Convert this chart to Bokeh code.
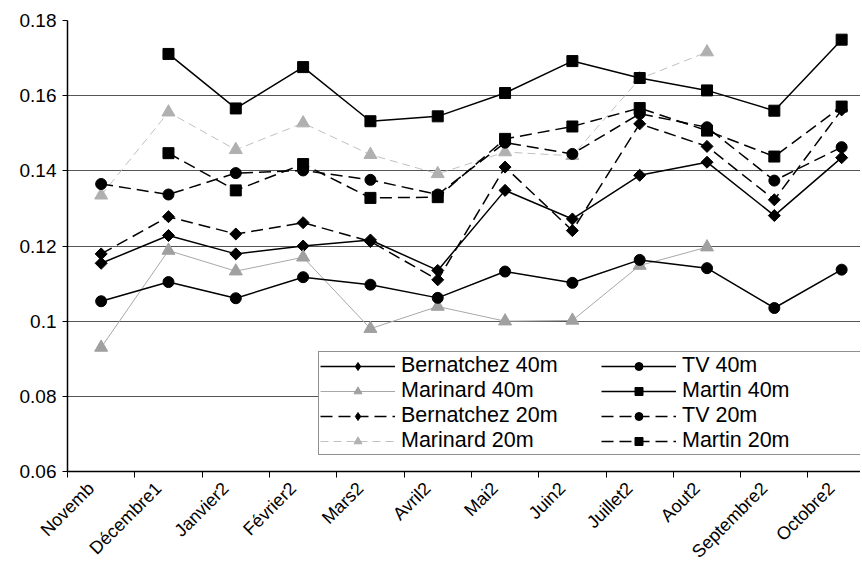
import math
import numpy as np
from bokeh.plotting import figure
from bokeh.models import (Range1d, FixedTicker, Legend, LegendItem, ColumnDataSource)
from bokeh.embed import file_html
from bokeh.resources import INLINE

nan = np.nan

months = ["Novemb", "Décembre1", "Janvier2", "Février2", "Mars2", "Avril2",
          "Mai2", "Juin2", "Juillet2", "Aout2", "Septembre2", "Octobre2"]

bernatchez_40 = [0.1154, 0.1228, 0.1179, 0.1200, 0.1216, 0.1135, 0.1348, 0.1272, 0.1388, 0.1423, 0.1281, 0.1435]
tv_40 = [0.1053, 0.1104, 0.1061, 0.1117, 0.1097, 0.1062, 0.1132, 0.1102, 0.1163, 0.1141, 0.1035, 0.1137]
marinard_40 = [0.0930, 0.1188, 0.1133, 0.1170, 0.0980, 0.1039, 0.1000, 0.1002, 0.1148, 0.1197, nan, nan]
martin_40 = [nan, 0.1711, 0.1566, 0.1676, 0.1532, 0.1545, 0.1607, 0.1692, 0.1647, 0.1614, 0.1560, 0.1749]
bernatchez_20 = [0.1179, 0.1278, 0.1232, 0.1262, 0.1212, 0.1110, 0.1410, 0.1241, 0.1525, 0.1465, 0.1323, 0.1562]
tv_20 = [0.1365, 0.1337, 0.1394, 0.1401, 0.1376, 0.1337, 0.1475, 0.1445, 0.1552, 0.1516, 0.1374, 0.1463]
marinard_20 = [0.1335, 0.1556, 0.1456, 0.1527, 0.1443, 0.1392, 0.1450, 0.1440, 0.1645, 0.1716, nan, nan]
martin_20 = [nan, 0.1447, 0.1348, 0.1418, 0.1328, 0.1330, 0.1485, 0.1518, 0.1567, 0.1507, 0.1438, 0.1571]

y_ticks = [0.06, 0.08, 0.1, 0.12, 0.14, 0.16, 0.18]
y_labels = ["0.06", "0.08", "0.1", "0.12", "0.14", "0.16", "0.18"]

xc = [i + 0.5 for i in range(len(months))]
label_pos = [round(i + 0.35, 2) for i in range(len(months))]
bounds = [float(i) for i in range(len(months) + 1)]

FONT = "Liberation Sans"

p = figure(width=860, height=576, output_backend="svg", toolbar_location=None,
           x_range=Range1d(0, 11.78), y_range=Range1d(0.06, 0.18),
           min_border_left=67, min_border_right=0, min_border_top=20, min_border_bottom=105)
p.outline_line_color = None
p.background_fill_color = "white"

# axes
p.xaxis.ticker = FixedTicker(ticks=label_pos, minor_ticks=bounds)
p.xaxis.major_label_overrides = {x: m for x, m in zip(label_pos, months)}
p.xaxis.major_label_orientation = math.pi / 4
p.xaxis.major_tick_out = 0
p.xaxis.major_tick_in = 0
p.xaxis.minor_tick_out = 6
p.xaxis.minor_tick_in = 0
p.xaxis.minor_tick_line_color = "black"
p.xaxis.axis_line_color = "black"
p.xaxis.axis_line_width = 1.5
p.xaxis.major_label_text_font = FONT
p.xaxis.major_label_text_font_size = "18px"
p.xaxis.major_label_text_color = "black"
p.xaxis.major_label_standoff = 8

p.yaxis.ticker = FixedTicker(ticks=y_ticks)
p.yaxis.major_label_overrides = {t: l for t, l in zip(y_ticks, y_labels)}
p.yaxis.major_tick_out = 5
p.yaxis.major_tick_in = 0
p.yaxis.minor_tick_line_color = None
p.yaxis.axis_line_color = "black"
p.yaxis.axis_line_width = 1.5
p.yaxis.major_label_text_font = FONT
p.yaxis.major_label_text_font_size = "19px"
p.yaxis.major_label_text_color = "black"
p.yaxis.major_label_standoff = 6

p.xgrid.grid_line_color = None
p.ygrid.grid_line_color = "#555555"
p.ygrid.grid_line_width = 1.2

series = [
    ("Bernatchez 40m", bernatchez_40, "black", "solid", 1.5, "diamond", "black"),
    ("Marinard 40m", marinard_40, "#a8a8a8", "solid", 1.0, "triangle", "#a0a0a0"),
    ("Bernatchez 20m", bernatchez_20, "black", "12 6", 1.5, "diamond", "black"),
    ("Marinard 20m", marinard_20, "#c0c0c0", "8 5", 1.0, "triangle", "#b0b0b0"),
    ("TV 40m", tv_40, "black", "solid", 1.5, "circle", "black"),
    ("Martin 40m", martin_40, "black", "solid", 1.5, "square", "black"),
    ("TV 20m", tv_20, "black", "12 6", 1.5, "circle", "black"),
    ("Martin 20m", martin_20, "black", "12 6", 1.5, "square", "black"),
]

items = []
for name, vals, lc, dash, lw, marker, mc in series:
    src = ColumnDataSource(dict(x=xc, y=vals))
    lr = p.line("x", "y", source=src, line_color=lc, line_dash=dash, line_width=lw)
    if marker == "diamond":
        p.scatter("x", "y", source=src, marker="square", angle=math.pi / 4, size=8.5,
                  fill_color=mc, line_color=mc)
        # hidden twin renderer used only for the legend swatch
        lg = p.scatter("x", "y", source=src, marker="diamond", size=14,
                       fill_color=mc, line_color=mc, visible=False)
        items.append(LegendItem(label=name, renderers=[lr, lg]))
        continue
    elif marker == "triangle":
        sr = p.scatter("x", "y", source=src, marker="triangle", size=13,
                       fill_color=mc, line_color=mc)
    elif marker == "circle":
        sr = p.scatter("x", "y", source=src, marker="circle", size=11,
                       fill_color=mc, line_color=mc)
    else:
        sr = p.scatter("x", "y", source=src, marker="square", size=11,
                       fill_color=mc, line_color=mc)
    items.append(LegendItem(label=name, renderers=[lr, sr]))

legend = Legend(items=items, location=(251, 16), ncols=2)
legend.label_text_font = FONT
legend.label_text_font_size = "21.5px"
legend.label_text_color = "black"
legend.label_standoff = 6
legend.glyph_width = 75
legend.glyph_height = 20
legend.label_height = 20
legend.label_width = 200
legend.padding = 1
legend.spacing = 0
legend.margin = 0
legend.border_line_color = "#222222"
legend.border_line_width = 1.2
legend.background_fill_color = "white"
legend.background_fill_alpha = 1.0
p.add_layout(legend, "center")

open("out.html", "w").write(file_html(p, INLINE))
